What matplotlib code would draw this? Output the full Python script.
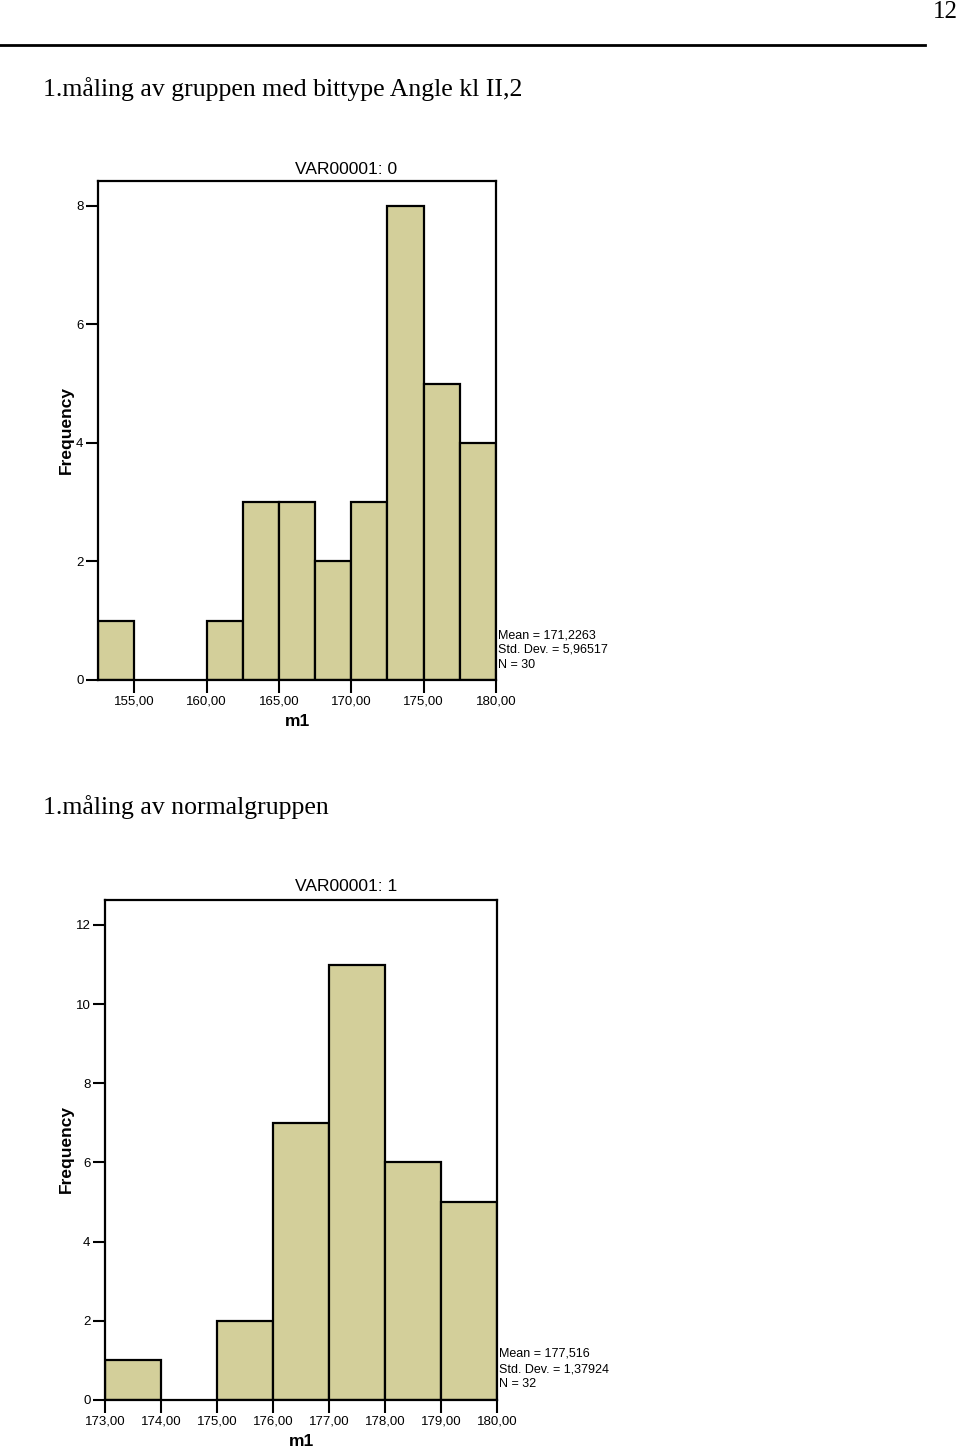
import matplotlib
matplotlib.use("Agg")
import matplotlib.pyplot as plt
import numpy as np

# ---- data ----
edges1 = [152.5, 155.0, 157.5, 160.0, 162.5, 165.0, 167.5, 170.0, 172.5, 175.0, 177.5, 180.0]
counts1 = [1, 0, 0, 1, 3, 3, 2, 3, 8, 5, 4]
xticks1 = [155, 160, 165, 170, 175, 180]
xticklabels1 = ["155,00", "160,00", "165,00", "170,00", "175,00", "180,00"]
yticks1 = [0, 2, 4, 6, 8]
stats1 = ["Mean = 171,2263", "Std. Dev. = 5,96517", "N = 30"]

edges2 = [173, 174, 175, 176, 177, 178, 179, 180]
counts2 = [1, 0, 2, 7, 11, 6, 5]
xticks2 = [173, 174, 175, 176, 177, 178, 179, 180]
xticklabels2 = ["173,00", "174,00", "175,00", "176,00", "177,00", "178,00", "179,00", "180,00"]
yticks2 = [0, 2, 4, 6, 8, 10, 12]
stats2 = ["Mean = 177,516", "Std. Dev. = 1,37924", "N = 32"]

W, H = 960, 1448
fig = plt.figure(figsize=(W / 100, H / 100), dpi=100)
SANS = "Liberation Sans"
SERIF = "Liberation Serif"
BAR = "#d3cf9a"


def fx(x):
    return x / W


def fy(y):
    return 1 - y / H


def make_axes(l, t, r, b, edges, counts, xlim, ylim, xt, xtl, yt, title, stats, stats_xy, m1_xy, freq_xy, title_xy):
    ax = fig.add_axes([fx(l), fy(b), fx(r) - fx(l), fy(t) - fy(b)])
    widths = np.diff(edges)
    nz = [i for i, c in enumerate(counts) if c > 0]
    ax.bar([edges[i] for i in nz], [counts[i] for i in nz], width=[widths[i] for i in nz],
           align="edge", color=BAR, edgecolor="black", linewidth=1.6, zorder=2)
    ax.set_xlim(*xlim)
    ax.set_ylim(*ylim)
    ax.set_xticks(xt)
    ax.set_xticklabels(xtl, fontfamily=SANS, fontsize=9.5)
    ax.set_yticks(yt)
    ax.set_yticklabels([str(v) for v in yt], fontfamily=SANS, fontsize=9.5)
    ax.tick_params(axis="both", direction="out", length=9, width=1.5)
    ax.tick_params(axis="x", pad=2)
    ax.tick_params(axis="y", pad=1.5)
    for s in ax.spines.values():
        s.set_linewidth(1.6)
    fig.text(fx(title_xy[0]), fy(title_xy[1]), title, ha="center", va="center",
             fontfamily=SANS, fontsize=12.5)
    fig.text(fx(m1_xy[0]), fy(m1_xy[1]), "m1", ha="center", va="center",
             fontfamily=SANS, fontsize=12.5, fontweight="bold")
    fig.text(fx(freq_xy[0]), fy(freq_xy[1]), "Frequency", ha="center", va="center",
             rotation=90, fontfamily=SANS, fontsize=12.5, fontweight="bold")
    for i, s in enumerate(stats):
        fig.text(fx(stats_xy[0]), fy(stats_xy[1] + 15 * i), s, ha="left", va="center",
                 fontfamily=SANS, fontsize=9)
    return ax


make_axes(98, 181, 496, 680, edges1, counts1, (152.5, 180.0), (0, 8.42),
          xticks1, xticklabels1, yticks1, "VAR00001: 0", stats1,
          (498, 635), (298, 722), (66, 430), (346, 169))
make_axes(105, 900, 497, 1400, edges2, counts2, (173, 180), (0, 12.63),
          xticks2, xticklabels2, yticks2, "VAR00001: 1", stats2,
          (499, 1354), (302, 1441), (66, 1149), (346, 887))

# page decoration
fig.text(fx(958), fy(12), "12", ha="right", va="center", fontfamily=SERIF, fontsize=18)
fig.add_artist(plt.Line2D([0, fx(925)], [fy(45), fy(45)], color="black", linewidth=2))
fig.text(fx(43), fy(89), "1.måling av gruppen med bittype Angle kl II,2", ha="left", va="center",
         fontfamily=SERIF, fontsize=18.5)
fig.text(fx(43), fy(807), "1.måling av normalgruppen", ha="left", va="center",
         fontfamily=SERIF, fontsize=18.5)

fig.savefig("out.png", dpi=100)
